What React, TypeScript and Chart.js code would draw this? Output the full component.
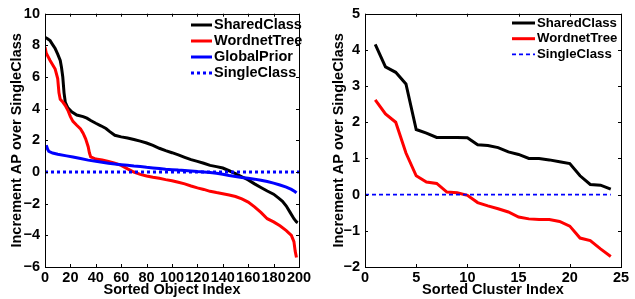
import React, { useEffect, useRef } from 'react';
import { Chart, registerables } from 'chart.js';

Chart.register(...registerables);

// ---------- Left chart: per-object increments ----------
const objSharedX = [0, 2, 4, 6, 8, 10, 12, 13, 14, 15, 16, 18, 21, 25, 30, 33, 36, 40, 44, 48, 51, 55, 60, 65, 70, 75, 80, 85, 90, 95, 100, 105, 110, 115, 120, 125, 130, 135, 140, 145, 150, 155, 160, 165, 170, 175, 180, 184, 187, 190, 193, 196, 198, 199];
const objSharedY = [8.5, 8.42, 8.3, 8.05, 7.8, 7.45, 7.05, 6.6, 6.0, 5.0, 4.4, 4.05, 3.8, 3.6, 3.5, 3.4, 3.25, 3.08, 2.92, 2.75, 2.55, 2.32, 2.22, 2.15, 2.05, 1.95, 1.83, 1.68, 1.5, 1.35, 1.22, 1.08, 0.93, 0.78, 0.67, 0.55, 0.42, 0.34, 0.25, 0.08, -0.1, -0.3, -0.5, -0.75, -0.98, -1.2, -1.4, -1.65, -1.85, -2.15, -2.55, -2.95, -3.15, -3.2];

const objWordnetX = [0, 1, 4, 8, 10, 11, 12, 14, 16, 18, 20, 22, 25, 28, 30, 32, 34, 35, 36, 40, 45, 50, 55, 60, 65, 70, 75, 80, 85, 90, 95, 100, 105, 110, 115, 120, 125, 130, 135, 140, 145, 150, 155, 160, 165, 170, 175, 180, 185, 190, 194, 196, 197, 198];
const objWordnetY = [7.9, 7.5, 7.05, 6.5, 5.9, 5.0, 4.6, 4.42, 4.2, 3.9, 3.5, 3.2, 2.95, 2.72, 2.45, 2.1, 1.6, 1.2, 0.95, 0.82, 0.76, 0.66, 0.55, 0.42, 0.2, 0.0, -0.15, -0.25, -0.33, -0.4, -0.48, -0.55, -0.65, -0.75, -0.88, -1.0, -1.1, -1.22, -1.3, -1.37, -1.45, -1.55, -1.7, -1.9, -2.2, -2.55, -2.95, -3.15, -3.4, -3.7, -4.0, -4.4, -5.0, -5.4];

const objGlobalX = [1, 2, 3, 6, 10, 17, 22, 28, 34, 40, 45, 50, 55, 60, 65, 70, 75, 80, 85, 90, 95, 100, 105, 110, 115, 120, 125, 130, 135, 140, 145, 150, 155, 160, 165, 170, 175, 180, 185, 190, 194, 197, 198];
const objGlobalY = [1.7, 1.45, 1.3, 1.2, 1.12, 1.02, 0.95, 0.85, 0.75, 0.68, 0.62, 0.56, 0.5, 0.46, 0.42, 0.38, 0.35, 0.3, 0.26, 0.22, 0.18, 0.15, 0.12, 0.1, 0.07, 0.03, 0.0, -0.03, -0.08, -0.14, -0.22, -0.28, -0.35, -0.4, -0.45, -0.52, -0.6, -0.7, -0.82, -0.95, -1.1, -1.25, -1.32];

const objSingleX = [0, 200];
const objSingleY = [0, 0];

// ---------- Right chart: per-cluster increments ----------
const clusterX = [1, 2, 3, 4, 5, 6, 7, 8, 9, 10, 11, 12, 13, 14, 15, 16, 17, 18, 19, 20, 21, 22, 23, 24];
const clusterShared = [4.15, 3.53, 3.38, 3.06, 1.8, 1.7, 1.58, 1.58, 1.58, 1.57, 1.38, 1.36, 1.3, 1.18, 1.11, 1.0, 1.0, 0.96, 0.91, 0.86, 0.52, 0.28, 0.26, 0.15];
const clusterWordnet = [2.62, 2.23, 2.0, 1.15, 0.52, 0.35, 0.31, 0.07, 0.05, -0.02, -0.22, -0.31, -0.39, -0.48, -0.62, -0.67, -0.69, -0.69, -0.74, -0.87, -1.2, -1.27, -1.5, -1.71];
const clusterSingleX = [0, 24];
const clusterSingleY = [0, 0];

const FAMILY = '"Liberation Sans", Arial, sans-serif';
const FONT = { family: FAMILY, size: 14.5, weight: 'bold' as const };

const pts = (xs: number[], ys: number[]) => xs.map((x, i) => ({ x, y: ys[i] }));

const fmtTick = (v: number | string) => {
  const n = Number(v);
  return n < 0 ? '\u2212' + String(-n) : String(n);
};

const framePlugin = {
  id: 'frameLegend',
  afterDraw(chart: any, _args: any, opts: any) {
    const { ctx, chartArea } = chart;
    const { left, right, top, bottom } = chartArea;
    ctx.save();
    ctx.strokeStyle = '#000';
    ctx.lineWidth = 1;
    ctx.setLineDash([]);
    ctx.strokeRect(Math.round(left) + 0.5, Math.round(top) + 0.5, Math.round(right - left), Math.round(bottom - top));
    const tl = 3;
    const xs = chart.scales.x;
    const ys = chart.scales.y;
    ctx.beginPath();
    xs.ticks.forEach((t: any) => {
      const px = Math.round(xs.getPixelForValue(t.value)) + 0.5;
      ctx.moveTo(px, bottom);
      ctx.lineTo(px, bottom - tl);
      ctx.moveTo(px, top);
      ctx.lineTo(px, top + tl);
    });
    ys.ticks.forEach((t: any) => {
      const py = Math.round(ys.getPixelForValue(t.value)) + 0.5;
      ctx.moveTo(left, py);
      ctx.lineTo(left + tl, py);
      ctx.moveTo(right, py);
      ctx.lineTo(right - tl, py);
    });
    ctx.stroke();

    // legend
    const { x0, x1, textX, y0, dy, size } = opts;
    ctx.font = `bold ${size}px ${FAMILY}`;
    ctx.textBaseline = 'middle';
    ctx.textAlign = 'left';
    ctx.fillStyle = '#000';
    chart.data.datasets.forEach((ds: any, i: number) => {
      const y = y0 + i * dy;
      ctx.save();
      ctx.strokeStyle = ds.borderColor;
      ctx.lineWidth = ds.borderWidth;
      ctx.lineCap = 'butt';
      ctx.setLineDash(ds.borderDash || []);
      ctx.beginPath();
      ctx.moveTo(x0, y);
      ctx.lineTo(x1, y);
      ctx.stroke();
      ctx.restore();
      ctx.fillText(ds.label, textX, y);
    });
    ctx.restore();
  },
};

function makeOptions(cfg: {
  xMin: number; xMax: number; xStep: number; xTitle: string;
  yMin: number; yMax: number; yStep: number; yTitle: string;
  yWidth: number; padTop: number; padRight: number; yTitlePad: number;
  legend: any;
}) {
  return {
    responsive: false,
    animation: false as const,
    devicePixelRatio: 1,
    layout: { padding: { left: 0, top: cfg.padTop, right: cfg.padRight, bottom: 0 } },
    plugins: {
      legend: { display: false },
      tooltip: { enabled: false },
      frameLegend: cfg.legend,
    },
    elements: { point: { radius: 0 }, line: { tension: 0 } },
    scales: {
      x: {
        type: 'linear' as const,
        min: cfg.xMin,
        max: cfg.xMax,
        grid: { display: false, drawTicks: false },
        border: { display: false },
        ticks: { stepSize: cfg.xStep, autoSkip: false, color: '#000', font: FONT, padding: 2, maxRotation: 0, callback: fmtTick },
        title: { display: true, text: cfg.xTitle, color: '#000', font: FONT, padding: { top: 0, bottom: 0 } },
        afterFit: (s: any) => { s.height = 32; },
      },
      y: {
        type: 'linear' as const,
        min: cfg.yMin,
        max: cfg.yMax,
        grid: { display: false, drawTicks: false },
        border: { display: false },
        ticks: { stepSize: cfg.yStep, autoSkip: false, color: '#000', font: FONT, padding: 5, callback: fmtTick },
        title: { display: true, text: cfg.yTitle, color: '#000', font: FONT, padding: { top: cfg.yTitlePad, bottom: 0 } },
        afterFit: (s: any) => { s.width = cfg.yWidth; },
      },
    },
  };
}

function ObjectChart() {
  const ref = useRef<HTMLCanvasElement>(null);
  useEffect(() => {
    if (!ref.current) return;
    const chart = new Chart(ref.current, {
      type: 'line',
      data: {
        datasets: [
          { label: 'SharedClass', data: pts(objSharedX, objSharedY), borderColor: '#000000', borderWidth: 3, order: 3 },
          { label: 'WordnetTree', data: pts(objWordnetX, objWordnetY), borderColor: '#ff0000', borderWidth: 3, order: 2 },
          { label: 'GlobalPrior', data: pts(objGlobalX, objGlobalY), borderColor: '#0000ff', borderWidth: 3, order: 1 },
          { label: 'SingleClass', data: pts(objSingleX, objSingleY), borderColor: '#0000ff', borderWidth: 3, borderDash: [3, 3], order: 0 },
        ] as any,
      },
      options: makeOptions({
        xMin: 0, xMax: 200, xStep: 20, xTitle: 'Sorted Object Index',
        yMin: -6, yMax: 10, yStep: 2, yTitle: 'Increment AP over SingleClass',
        yWidth: 45, padTop: 13, padRight: 19, yTitlePad: 8,
        legend: { x0: 191, x1: 212, textX: 214, y0: 25, dy: 16, size: 14.5 },
      }) as any,
      plugins: [framePlugin],
    });
    return () => chart.destroy();
  }, []);
  return <canvas ref={ref} width={318} height={299} style={{ position: 'absolute', left: 0, top: 0 }} />;
}

function ClusterChart() {
  const ref = useRef<HTMLCanvasElement>(null);
  useEffect(() => {
    if (!ref.current) return;
    const chart = new Chart(ref.current, {
      type: 'line',
      data: {
        datasets: [
          { label: 'SharedClass', data: pts(clusterX, clusterShared), borderColor: '#000000', borderWidth: 3, order: 2 },
          { label: 'WordnetTree', data: pts(clusterX, clusterWordnet), borderColor: '#ff0000', borderWidth: 3, order: 1 },
          { label: 'SingleClass', data: pts(clusterSingleX, clusterSingleY), borderColor: '#0000ff', borderWidth: 1.6, borderDash: [4, 3], order: 0 },
        ] as any,
      },
      options: makeOptions({
        xMin: 0, xMax: 25, xStep: 5, xTitle: 'Sorted Cluster Index',
        yMin: -2, yMax: 5, yStep: 1, yTitle: 'Increment AP over SingleClass',
        yWidth: 47, padTop: 10, padRight: 14, yTitlePad: 12,
        legend: { x0: 194, x1: 217, textX: 219, y0: 23, dy: 15.7, size: 13.2 },
      }) as any,
      plugins: [framePlugin],
    });
    return () => chart.destroy();
  }, []);
  return <canvas ref={ref} width={317} height={299} style={{ position: 'absolute', left: 318, top: 0 }} />;
}

export default function App() {
  return (
    <div style={{ position: 'absolute', left: 0, top: 0, width: 635, height: 299, background: '#fff' }}>
      <ObjectChart />
      <ClusterChart />
    </div>
  );
}
